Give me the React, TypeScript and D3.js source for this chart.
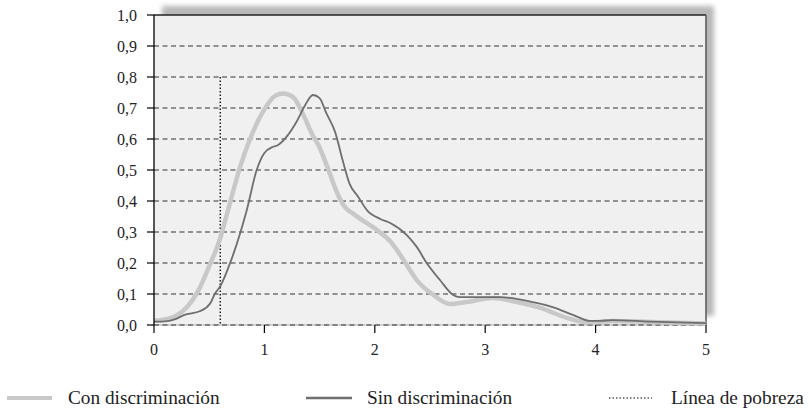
import React from "react";
import * as d3 from "d3";

const conX = [0, 0.1, 0.2, 0.3, 0.4, 0.5, 0.6, 0.67, 0.78, 0.87, 0.99, 1.1, 1.17, 1.26, 1.35, 1.44, 1.49, 1.57, 1.66, 1.72, 1.82, 2.02, 2.14, 2.26, 2.38, 2.53, 2.68, 2.83, 3.07, 3.29, 3.5, 3.74, 3.89, 4.0, 4.15, 4.5, 5.0];
const conY = [0.014, 0.018, 0.03, 0.058, 0.11, 0.19, 0.28, 0.37, 0.51, 0.6, 0.69, 0.74, 0.747, 0.735, 0.68, 0.61, 0.58, 0.51, 0.425, 0.385, 0.355, 0.306, 0.27, 0.21, 0.145, 0.097, 0.068, 0.074, 0.087, 0.074, 0.055, 0.023, 0.01, 0.009, 0.013, 0.01, 0.005];

const sinX = [0, 0.1, 0.2, 0.27, 0.42, 0.51, 0.55, 0.6, 0.7, 0.84, 0.93, 1.0, 1.08, 1.12, 1.2, 1.29, 1.37, 1.44, 1.5, 1.56, 1.64, 1.71, 1.77, 1.85, 1.93, 2.05, 2.14, 2.29, 2.38, 2.47, 2.59, 2.71, 2.77, 3.13, 3.43, 3.61, 3.8, 3.95, 4.04, 4.15, 4.49, 5.0];
const sinY = [0.011, 0.012, 0.02, 0.032, 0.045, 0.07, 0.1, 0.125, 0.21, 0.37, 0.5, 0.555, 0.575, 0.58, 0.607, 0.655, 0.71, 0.742, 0.732, 0.684, 0.623, 0.53, 0.457, 0.413, 0.37, 0.342, 0.329, 0.29, 0.252, 0.2, 0.145, 0.097, 0.09, 0.09, 0.074, 0.058, 0.032, 0.013, 0.013, 0.016, 0.011, 0.006];

const povertyX = 0.6;
const povertyTop = 0.8;

const yTicks = [0, 0.1, 0.2, 0.3, 0.4, 0.5, 0.6, 0.7, 0.8, 0.9, 1.0];
const xTicks = [0, 1, 2, 3, 4, 5];
const legendLabels = ["Con discriminación", "Sin discriminación", "Línea de pobreza"];

const FONT = '"Times New Roman", Times, "Liberation Serif", "DejaVu Serif", "Noto Serif", serif';

export default function App() {
  const W = 809, H = 410;
  const x = d3.scaleLinear().domain([0, 5]).range([154, 706]);
  const y = d3.scaleLinear().domain([0, 1]).range([325, 15]);
  const line = d3
    .line<[number, number]>()
    .x((d) => x(d[0]))
    .y((d) => y(d[1]))
    .curve(d3.curveMonotoneX);
  const conPts = conX.map((v, i) => [v, conY[i]] as [number, number]);
  const sinPts = sinX.map((v, i) => [v, sinY[i]] as [number, number]);
  const fmt = (v: number) => v.toFixed(1).replace(".", ",");
  const x0 = x(0), x1 = x(5), yT = y(1), yB = y(0);
  const ts = { fontFamily: FONT };

  return (
    <svg width={W} height={H} style={{ position: "absolute", left: 0, top: 0, background: "#fff", fontFamily: FONT }}>
      <defs>
        <filter id="blur" x="-10%" y="-10%" width="120%" height="120%">
          <feGaussianBlur stdDeviation="2.5" />
        </filter>
      </defs>
      <rect x={x0 + 8} y={yT - 9} width={x1 - x0} height={yB - yT} fill="#b8b8b8" filter="url(#blur)" />
      <rect x={x0} y={yT} width={x1 - x0} height={yB - yT} fill="#f0f0f0" />
      {yTicks.slice(1, -1).map((t) => (
        <line key={t} x1={x0} x2={x1} y1={y(t)} y2={y(t)} stroke="#333" strokeWidth={1} strokeDasharray="5,3.5" />
      ))}
      <line x1={x0} x2={x1} y1={yB} y2={yB} stroke="#aaa" strokeWidth={1.2} />
      <line x1={x0} x2={x1} y1={yB} y2={yB} stroke="#333" strokeWidth={1} strokeDasharray="5,3.5" />
      <line x1={x0} x2={x1} y1={yT} y2={yT} stroke="#222" strokeWidth={1.3} />
      <line x1={x1} x2={x1} y1={yT} y2={yB} stroke="#555" strokeWidth={1.5} />
      <line x1={x(povertyX)} x2={x(povertyX)} y1={y(povertyTop)} y2={yB} stroke="#000" strokeWidth={1.3} strokeDasharray="1.5,2" />
      <path d={line(conPts) || ""} fill="none" stroke="#c8c8c8" strokeWidth={4.5} strokeLinejoin="round" />
      <path d={line(sinPts) || ""} fill="none" stroke="#6e6e6e" strokeWidth={1.8} strokeLinejoin="round" />
      <line x1={x0} x2={x0} y1={yT} y2={yB} stroke="#000" strokeWidth={1.3} />
      {yTicks.map((t) => (
        <g key={t}>
          <line x1={x0 - 7} x2={x0} y1={y(t)} y2={y(t)} stroke="#000" strokeWidth={1.2} />
          <text x={137} y={y(t)} dy="0.35em" textAnchor="end" fontSize={16} fill="#222" style={ts}>
            {fmt(t)}
          </text>
        </g>
      ))}
      {xTicks.map((t) => (
        <g key={t}>
          <line x1={x(t)} x2={x(t)} y1={yB} y2={yB + 8} stroke="#000" strokeWidth={1.2} />
          <text x={x(t)} y={355} textAnchor="middle" fontSize={16} fill="#222" style={ts}>
            {t}
          </text>
        </g>
      ))}
      <line x1={7} x2={52} y1={398} y2={398} stroke="#c8c8c8" strokeWidth={4} />
      <text x={68} y={404} fontSize={19.3} fill="#222" style={ts}>{legendLabels[0]}</text>
      <line x1={306} x2={352} y1={398} y2={398} stroke="#6e6e6e" strokeWidth={2.5} />
      <text x={367} y={404} fontSize={19.3} fill="#222" style={ts}>{legendLabels[1]}</text>
      <line x1={609} x2={652} y1={398} y2={398} stroke="#000" strokeWidth={1.2} strokeDasharray="1.5,2" />
      <text x={671} y={404} fontSize={19.3} fill="#222" style={ts}>{legendLabels[2]}</text>
    </svg>
  );
}
